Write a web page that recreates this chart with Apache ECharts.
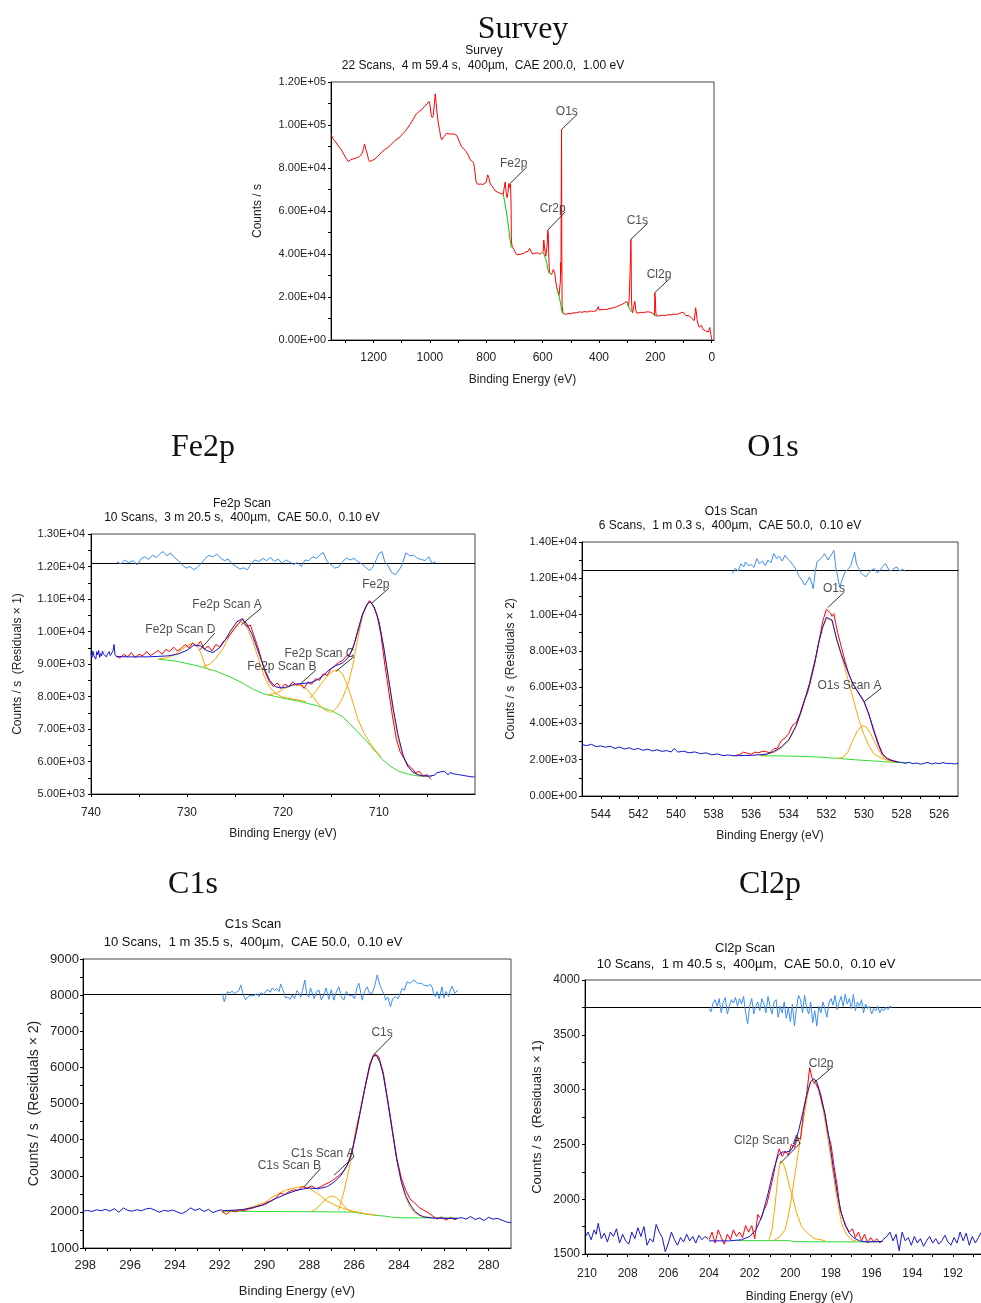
<!DOCTYPE html>
<html><head><meta charset="utf-8">
<script src="https://cdn.jsdelivr.net/npm/echarts@6/dist/echarts.min.js"></script>
<style>html,body{margin:0;padding:0;background:#fff}#c{width:981px;height:1303px}</style>
</head><body><div id="c"></div>
<script>
// ---------------- Survey ----------------
const surveyData = [[1350,95500],[1345,93800],[1340,93000],[1335,92200],[1330,91400],[1325,90300],[1320,89500],[1315,88600],[1310,87800],[1305,86200],[1300,85100],[1295,84000],[1290,83000],[1285,82800],[1280,83900],[1275,83500],[1270,84300],[1265,84000],[1260,84800],[1255,84400],[1250,85300],[1245,85800],[1240,87000],[1236,89000],[1232,91200],[1229,90500],[1226,88000],[1222,86500],[1218,84000],[1214,83000],[1210,82700],[1205,83500],[1200,83200],[1195,84200],[1190,85000],[1185,85500],[1180,86300],[1170,87500],[1160,88600],[1150,89500],[1140,90600],[1130,92000],[1120,93200],[1110,94000],[1100,95400],[1090,96800],[1080,98500],[1070,100300],[1060,102500],[1050,104800],[1040,106200],[1030,107000],[1020,108500],[1010,109800],[1004,111000],[1000,109500],[996,105000],[992,103500],[988,104500],[984,110000],[981,114500],[978,110500],[975,106000],[970,100500],[966,98000],[962,94500],[958,93200],[950,94600],[945,95500],[940,96200],[932,95800],[925,96500],[915,95800],[905,95200],[898,94400],[893,91500],[887,89800],[880,89200],[872,87800],[866,87200],[862,85500],[858,84000],[852,83500],[845,82500],[840,78000],[836,73500],[830,72400],[820,72600],[812,72300],[805,72900],[800,73500],[795,76800],[791,75500],[787,73000],[780,72200],[774,70500],[768,69300],[760,68800],[752,68300],[745,68000],[740,67800],[736,68500],[733,73500],[731,73800],[729,68000],[726,66200],[723,68500],[720,72800],[717,71000],[714,72500],[712,63000],[711,46000],[708,43500],[703,42300],[698,41000],[692,39700],[686,39200],[680,39800],[674,40200],[668,40300],[660,41000],[652,41200],[646,42600],[642,41400],[636,40000],[630,39800],[622,40600],[615,40300],[608,40000],[602,40500],[598,41200],[596,46500],[594,46000],[592,41500],[589,39000],[586,38700],[584,44000],[582,51000],[580,49500],[578,38000],[576,31500],[572,30800],[568,30500],[565,31500],[562,32800],[560,33400],[557,31000],[554,27500],[550,24500],[546,22500],[542,20800],[539,20000],[537,27500],[536,36000],[535,31000],[534,70000],[533,98000],[532,40000],[531,16000],[528,12500],[524,11700],[518,11900],[510,12300],[500,12200],[490,12700],[480,12600],[470,13100],[460,12900],[450,13200],[440,13000],[430,13500],[420,13300],[410,13600],[404,13700],[402,15500],[400,14000],[394,13700],[385,14200],[375,14100],[365,14600],[355,14800],[345,15100],[335,15600],[325,16200],[315,16800],[308,17500],[302,17900],[298,16600],[295,15300],[292,22000],[290,31000],[288,40000],[287,46800],[286,39000],[285,20000],[283,13800],[281,12700],[278,12500],[275,13000],[273,18000],[271,18800],[269,13500],[265,12500],[258,12700],[250,12900],[240,12800],[230,13100],[220,13000],[212,12700],[206,11800],[203,11400],[202,22000],[200,19500],[199,14000],[197,11300],[192,11000],[185,11200],[175,11500],[165,11300],[155,11800],[145,11700],[135,12000],[125,11900],[115,12300],[108,12400],[102,13000],[98,12200],[92,11400],[86,10900],[80,11300],[72,10200],[66,9800],[62,9000],[59,9600],[57,15000],[55,13200],[52,9500],[48,7000],[44,6000],[40,5500],[36,6800],[33,5200],[30,4700],[26,5900],[23,4300],[20,5000],[16,4100],[12,3700],[9,4200],[7,5800],[5,4000],[3,2500],[1,900],[0,200]];
const surveyBgFe = [[740,68000],[735,64500],[730,60500],[725,56500],[720,51500],[716,47000],[711,43000]];
const surveyBgCr = [[598,40800],[590,38000],[585,35500],[580,32000],[576,30800]];
const surveyBgO = [[549,24000],[544,21500],[540,19500],[536,16500],[532,13500],[529,12300]];
const surveyBgC = [[300,17500],[296,15800],[292,14800],[288,13600],[284,13000]];
const surveyBgCl = [[208,12300],[204,11800],[200,11300],[196,11100]];
const surveyNotes = [['O1s',533,97900,477,105000],['Fe2p',717.7,72500,656,80500],['Cr2p',581.7,51100,520,59600],['C1s',287.3,46800,228,54200],['Cl2p',202.2,22000,145,29100]];
const surveyXTicks = [0,100,200,300,400,500,600,700,800,900,1000,1100,1200,1300];
const surveyXLabels = [0,200,400,600,800,1000,1200];
const surveyYTicks = [0,10000,20000,30000,40000,50000,60000,70000,80000,90000,100000,110000,120000];
const surveyYLabels = [0,20000,40000,60000,80000,100000,120000];

// ---------------- Fe2p ----------------
const fe2pOuterLeft = [[740.0,9350],[739.9,9200],[739.8,9400],[739.7,9250],[739.6,9300],[739.5,9150],[739.4,9380],[739.3,9280],[739.2,9420],[739.1,9200],[739.0,9320],[738.9,9250],[738.8,9400],[738.7,9300],[738.6,9250],[738.5,9350],[738.4,9220],[738.3,9300],[738.2,9280],[738.1,9380],[738.0,9260],[737.9,9300],[737.8,9350],[737.7,9420],[737.6,9600],[737.5,9280],[737.4,9250]];
const fe2pOuterRight = [[704.6,5560],[704.4,5620],[704.2,5580],[704.0,5650],[703.8,5600],[703.6,5680],[703.4,5620],[703.2,5700],[703.0,5640],[702.8,5590],[702.6,5660],[702.4,5720],[702.2,5620],[702.0,5680],[701.8,5600],[701.6,5650],[701.4,5580],[701.2,5640],[701.0,5560],[700.8,5620],[700.6,5540],[700.4,5600],[700.2,5520],[700.0,5560]];
const fe2pRaw = [[737.4,9250],[737.0,9180],[736.6,9300],[736.2,9220],[735.8,9350],[735.4,9200],[735.0,9300],[734.6,9250],[734.2,9380],[733.8,9260],[733.4,9330],[733.0,9420],[732.6,9300],[732.2,9450],[731.8,9380],[731.4,9520],[731.0,9400],[730.6,9480],[730.2,9600],[729.8,9500],[729.4,9650],[729.0,9540],[728.6,9700],[728.2,9450],[727.8,9550],[727.4,9400],[727.0,9600],[726.6,9520],[726.2,9700],[725.8,9800],[725.4,9950],[725.0,10100],[724.6,10250],[724.2,10400],[723.8,10150],[723.4,10200],[723.0,9850],[722.6,9500],[722.2,9100],[721.8,8700],[721.4,8450],[721.0,8300],[720.6,8420],[720.2,8250],[719.8,8380],[719.4,8300],[719.0,8450],[718.6,8350],[718.2,8400],[717.8,8250],[717.4,8450],[717.0,8380],[716.6,8550],[716.2,8500],[715.8,8700],[715.4,8650],[715.0,8850],[714.6,8950],[714.2,9050],[713.8,9100],[713.4,9250],[713.0,9300],[712.6,9600],[712.2,10050],[711.8,10450],[711.4,10750],[711.0,10950],[710.6,10800],[710.2,10500],[709.8,9900],[709.4,9000],[709.0,8200],[708.6,7400],[708.2,6700],[707.8,6300],[707.4,6100],[707.0,5900],[706.6,5800],[706.2,5650],[705.8,5700],[705.4,5550],[705.0,5600],[704.6,5450]];
const fe2pEnv = [[737.4,9230],[736,9220],[734,9220],[732,9250],[731,9300],[730,9420],[729.3,9580],[728.6,9560],[728,9420],[727.3,9350],[726.6,9500],[726,9750],[725.4,10050],[724.8,10300],[724.3,10380],[723.8,10250],[723.2,9900],[722.6,9400],[722,8900],[721.4,8500],[720.8,8300],[720.2,8260],[719.5,8300],[718.8,8380],[718,8400],[717.2,8420],[716.5,8500],[715.8,8650],[715.2,8820],[714.5,8950],[713.8,9030],[713.2,9200],[712.7,9500],[712.2,10000],[711.7,10550],[711.2,10850],[710.9,10920],[710.5,10750],[710,10300],[709.5,9500],[709,8550],[708.5,7600],[708,6800],[707.5,6200],[707,5850],[706.5,5680],[706,5600],[705.5,5560],[704.5,5550]];
const fe2pBg = [[733,9150],[731,9080],[729,8950],[727,8780],[725.2,8560],[724,8380],[723.1,8220],[722,8080],[720,7950],[718.3,7850],[716.5,7720],[714.8,7540],[713.8,7380],[713.1,7180],[712.2,6900],[711.4,6660],[710.5,6350],[709.6,6050],[708.8,5850],[707.9,5690],[706.8,5600],[705.8,5550],[704.8,5540]];
const fe2pCompD = [[733,9150],[732,9200],[731.2,9300],[730.5,9450],[729.9,9580],[729.4,9640],[728.9,9550],[728.5,9300],[728.1,8930],[727.6,8800]];
const fe2pCompA = [[728.3,8920],[727.6,9000],[727,9170],[726.3,9450],[725.6,9850],[725,10150],[724.4,10300],[723.8,10180],[723.2,9750],[722.6,9200],[722,8650],[721.4,8300],[720.8,8100],[720.2,8000],[719.4,7940],[718.5,7900],[717.6,7840]];
const fe2pCompB = [[721.6,8050],[721,8080],[720.4,8150],[719.8,8250],[719.2,8330],[718.6,8360],[718,8320],[717.4,8200],[716.9,8000],[716.4,7800],[715.8,7620],[715.2,7520]];
const fe2pCompC = [[717.2,7950],[716.6,8150],[716,8400],[715.4,8620],[714.8,8780],[714.3,8820],[713.8,8700],[713.3,8350],[712.8,7900],[712.2,7300],[711.6,6900],[711,6600],[710.4,6350],[709.8,6150]];
const fe2pCompMain = [[715,7500],[714.4,7650],[713.8,7950],[713.2,8400],[712.7,9000],[712.2,9800],[711.7,10500],[711.2,10850],[710.9,10900],[710.5,10750],[710,10300],[709.5,9500],[709,8500],[708.5,7500],[708,6700],[707.5,6150],[707,5850],[706.5,5680],[706,5600],[705.5,5560],[704.8,5540]];
const fe2pResid = [[737.3,12150],[736.9,12080],[736.5,12200],[736.1,12120],[735.6,12180],[735.2,12050],[734.8,12230],[734.4,12300],[734.0,12220],[733.6,12350],[733.2,12280],[732.8,12400],[732.5,12460],[732.1,12330],[731.7,12420],[731.3,12270],[730.9,12180],[730.5,12050],[730.1,11950],[729.7,12000],[729.3,11900],[728.9,11980],[728.5,12100],[728.1,12250],[727.7,12340],[727.3,12300],[726.9,12380],[726.5,12260],[726.1,12180],[725.7,12230],[725.3,12080],[724.9,12000],[724.5,11920],[724.1,11960],[723.7,11900],[723.3,12100],[722.9,12200],[722.5,12150],[722.1,12250],[721.7,12180],[721.3,12280],[720.9,12150],[720.5,12230],[720.1,12100],[719.7,12200],[719.3,12140],[718.9,12060],[718.5,12120],[718.1,12000],[717.7,12200],[717.3,12180],[716.9,12300],[716.5,12250],[716.1,12370],[715.8,12430],[715.4,12150],[715.0,12050],[714.6,11950],[714.2,11980],[713.8,12150],[713.4,12260],[713.0,12200],[712.6,12250],[712.2,12150],[711.8,12080],[711.4,11980],[711.0,11880],[710.7,11950],[710.3,12200],[710.0,12400],[709.7,12460],[709.4,12150],[709.0,12000],[708.7,11820],[708.3,11750],[707.9,11900],[707.6,12050],[707.2,12420],[706.8,12330],[706.4,12350],[706.0,12250],[705.6,12220],[705.2,12180],[704.8,12300],[704.5,12100],[704.1,12150]];
const fe2pBaseline = 12090;
const fe2pNotes = [['Fe2p',710.86,10843,708.96,11336],['Fe2p Scan A',724.34,10207,722.27,10720],['Fe2p Scan D',728.66,9436,727.1,9950],['Fe2p Scan C',714.5,8769,712.6,9230],['Fe2p Scan B',718.1,8409,716.56,8820]];
const fe2pXTicks = [705,710,715,720,725,730,735,740];
const fe2pXLabels = [710,720,730,740];
const fe2pYTicks = [5000,5500,6000,6500,7000,7500,8000,8500,9000,9500,10000,10500,11000,11500,12000,12500,13000];
const fe2pYLabels = [5000,6000,7000,8000,9000,10000,11000,12000,13000];

// ---------------- O1s ----------------
const o1sOuterLeft = [[545,2830],[544.75,2780],[544.5,2850],[544.25,2720],[544,2760],[543.75,2690],[543.5,2740],[543.25,2620],[543,2700],[542.75,2590],[542.5,2660],[542.25,2560],[542,2620],[541.75,2520],[541.5,2580],[541.25,2480],[541,2550],[540.75,2460],[540.5,2500],[540.25,2430],[540.1,2620],[539.9,2420],[539.6,2470],[539.3,2380],[539,2430],[538.7,2330],[538.4,2380],[538.1,2270],[537.8,2320],[537.5,2230],[537.2,2260],[536.9,2210]];
const o1sRaw = [[536.9,2220],[536.6,2280],[536.4,2420],[536.2,2350],[536,2300],[535.8,2420],[535.6,2380],[535.4,2470],[535.2,2440],[535,2380],[534.8,2600],[534.6,2650],[534.4,3050],[534.2,3200],[534,3450],[533.8,3900],[533.6,4050],[533.4,4550],[533.2,5200],[533,5700],[532.8,6500],[532.6,7400],[532.4,8500],[532.2,9600],[532,10300],[531.9,10400],[531.8,10100],[531.7,9900],[531.6,10050],[531.5,9500],[531.4,9000],[531.2,8200],[531,7400],[530.8,6700],[530.6,6200],[530.4,5850],[530.2,5500],[530,5200],[529.8,4650],[529.6,4050],[529.4,3400],[529.2,2800],[529,2300],[528.8,2100],[528.6,2000],[528.4,1920],[528.2,1880]];
const o1sOuterRight = [[528.2,1880],[528,1850],[527.8,1800],[527.6,1860],[527.4,1780],[527.2,1820],[527,1750],[526.8,1800],[526.6,1850],[526.4,1760],[526.2,1820],[526,1780],[525.8,1840],[525.6,1790],[525.4,1800],[525.2,1770],[525,1790]];
const o1sEnv = [[536.9,2220],[536,2240],[535.2,2300],[534.8,2450],[534.4,2700],[534,3100],[533.6,3900],[533.3,4800],[532.9,6200],[532.6,7500],[532.4,8500],[532.2,9300],[532,9850],[531.9,9930],[531.7,9700],[531.44,8600],[531.2,7800],[530.9,6950],[530.6,6200],[530.38,5830],[530.03,5280],[529.75,4550],[529.5,3630],[529.25,2850],[529.05,2350],[528.8,2080],[528.6,1980],[528.2,1880]];
const o1sBg = [[535.5,2220],[534.5,2210],[533.5,2190],[532.5,2150],[531.5,2080],[530.5,2000],[529.5,1930],[528.5,1860],[527.7,1830]];
const o1sCompMain = [[535.5,2220],[534.8,2400],[534.4,2650],[534,3050],[533.6,3850],[533.3,4750],[532.9,6150],[532.6,7450],[532.4,8450],[532.2,9250],[532,9800],[531.9,9880],[531.7,9650],[531.44,8550],[531.2,7700],[530.9,6600],[530.56,5300],[530.3,4300],[530.03,3450],[529.75,2800],[529.5,2350],[529.05,2070],[528.6,1950],[528.2,1870]];
const o1sCompA = [[531.4,2070],[531.1,2150],[530.85,2450],[530.6,3050],[530.35,3600],[530.1,3860],[529.9,3820],[529.65,3450],[529.4,2900],[529.15,2400],[528.9,2050],[528.6,1910],[528.4,1880]];
const o1sResid = [[537.0,12260],[536.85,12550],[536.7,12400],[536.55,12800],[536.4,12620],[536.3,12900],[536.15,12700],[536.0,12750],[535.85,12600],[535.7,13080],[535.55,12800],[535.4,12950],[535.25,12700],[535.1,13000],[534.95,12850],[534.8,13360],[534.65,13100],[534.5,13200],[534.35,12950],[534.2,13270],[534.05,13050],[533.9,12900],[533.75,12700],[533.6,12450],[533.45,12100],[533.3,11900],[533.15,11620],[533.0,11850],[532.9,12070],[532.8,11800],[532.7,11430],[532.6,12300],[532.5,12900],[532.4,12800],[532.3,13080],[532.2,13200],[532.1,13360],[532.0,13450],[531.9,13000],[531.8,13200],[531.7,13350],[531.6,13540],[531.5,12600],[531.4,12100],[531.3,11520],[531.2,11800],[531.1,12100],[531.0,12350],[530.9,12300],[530.8,12550],[530.7,12700],[530.6,13100],[530.5,13450],[530.4,12800],[530.3,12600],[530.2,12350],[530.05,12200],[529.9,12080],[529.75,12300],[529.6,12450],[529.45,12530],[529.3,12300],[529.15,12420],[529.0,12650],[528.85,12810],[528.7,12500],[528.55,12400],[528.4,12550],[528.25,12620],[528.1,12400],[527.95,12500],[527.8,12380]];
const o1sBaseline = 12440;
const o1sNotes = [['O1s',531.93,10386,531.04,11248],['O1s Scan A',529.99,5193,529.1,5927]];
const o1sXTicks = [526,527,528,529,530,531,532,533,534,535,536,537,538,539,540,541,542,543,544];
const o1sXLabels = [526,528,530,532,534,536,538,540,542,544];
const o1sYTicks = [0,1000,2000,3000,4000,5000,6000,7000,8000,9000,10000,11000,12000,13000,14000];
const o1sYLabels = [0,2000,4000,6000,8000,10000,12000,14000];

// ---------------- C1s ----------------
const c1sOuterLeft = [[298.1,2020],[297.9,2040],[297.7,2010],[297.5,2060],[297.3,2030],[297.1,2070],[296.9,2020],[296.7,2090],[296.5,1990],[296.3,2110],[296.1,2040],[295.9,2020],[295.7,2060],[295.5,2030],[295.3,2080],[295.1,2100],[294.9,2050],[294.7,1990],[294.5,2040],[294.3,2020],[294.1,2050],[293.9,2000],[293.7,1950],[293.5,2010],[293.3,2110],[293.1,2040],[292.9,2090],[292.7,2010],[292.5,2070],[292.3,1980],[292.1,2030],[291.9,2060]];
const c1sRaw = [[291.9,2010],[291.7,1930],[291.5,2040],[291.3,2000],[291.1,2060],[290.9,2030],[290.7,2080],[290.5,2110],[290.3,2160],[290.1,2190],[289.9,2260],[289.7,2310],[289.5,2380],[289.3,2520],[289.1,2480],[288.9,2560],[288.7,2610],[288.5,2600],[288.3,2700],[288.1,2650],[287.9,2720],[287.7,2640],[287.5,2690],[287.3,2760],[287.1,2820],[286.9,2900],[286.7,3000],[286.5,3100],[286.3,3300],[286.1,3650],[285.9,4250],[285.7,4900],[285.5,5500],[285.3,6100],[285.1,6380],[284.9,6300],[284.7,5850],[284.5,5100],[284.3,4300],[284.1,3500],[283.9,2950],[283.7,2600],[283.5,2350],[283.3,2250],[283.1,2120],[282.9,2050],[282.7,1980],[282.5,1890],[282.3,1800],[282.1,1860],[281.9,1770],[281.7,1850],[281.5,1780],[281.4,1820]];
const c1sOuterRight = [[281.4,1820],[281.2,1840],[281.0,1800],[280.8,1870],[280.6,1790],[280.4,1830],[280.2,1760],[280.0,1850],[279.8,1800],[279.6,1820],[279.4,1770],[279.2,1720],[279.0,1700]];
const c1sEnv = [[291.9,2030],[291,2060],[290.5,2120],[290,2200],[289.5,2370],[289,2500],[288.5,2610],[288,2660],[287.6,2640],[287.2,2700],[286.9,2820],[286.6,3000],[286.3,3300],[286.1,3650],[285.9,4200],[285.7,4850],[285.5,5500],[285.3,6050],[285.15,6320],[285,6330],[284.85,6150],[284.7,5800],[284.5,5050],[284.3,4250],[284.1,3450],[283.9,2850],[283.7,2450],[283.5,2200],[283.3,2020],[283.1,1920],[282.9,1860],[282.5,1830],[282,1820],[281.4,1810]];
const c1sBg = [[291.9,2015],[290,2010],[288,2005],[286.1,1995],[285.6,1950],[285.05,1905],[284.6,1880],[284.16,1840],[283,1835],[281.4,1835]];
const c1sCompMain = [[286.7,2040],[286.5,2450],[286.3,2970],[286.1,3600],[285.94,4260],[285.7,4850],[285.5,5450],[285.3,6000],[285.15,6300],[285,6320],[284.85,6150],[284.7,5800],[284.5,5050],[284.3,4250],[284.1,3450],[283.9,2850],[283.7,2400],[283.5,2130],[283.3,1980],[283.1,1900],[282.8,1860],[282.5,1840]];
const c1sCompA = [[287.9,2010],[287.7,2080],[287.5,2200],[287.3,2330],[287.1,2420],[286.95,2440],[286.8,2400],[286.6,2280],[286.4,2130],[286.2,2030],[286,2000]];
const c1sCompB = [[291.9,2015],[291,2060],[290.54,2140],[290,2250],[289.65,2410],[289.06,2600],[288.6,2680],[288.32,2700],[288,2660],[287.87,2600],[287.5,2450],[287.28,2320],[286.9,2200],[286.68,2140],[286.3,2060],[286.09,2025],[285.5,1950],[285,1905]];
const c1sResid = [[291.88,8050],[291.8,7820],[291.73,7960],[291.66,8090],[291.55,8060],[291.44,8110],[291.35,8040],[291.25,8080],[291.15,8120],[291.06,8280],[290.95,8010],[290.84,7870],[290.75,7950],[290.65,7990],[290.54,7980],[290.45,8000],[290.35,8040],[290.25,7960],[290.15,8070],[290.05,8020],[289.95,8100],[289.85,8150],[289.75,8080],[289.65,8200],[289.55,8130],[289.45,8180],[289.35,8100],[289.28,8310],[289.18,8150],[289.06,7920],[288.96,7950],[288.86,7880],[288.76,8000],[288.66,7900],[288.56,8120],[288.46,8060],[288.38,7940],[288.3,8140],[288.2,8420],[288.12,8050],[288.02,7950],[287.95,8200],[287.87,8230],[287.78,7900],[287.68,8100],[287.57,8140],[287.47,7870],[287.35,8000],[287.25,8200],[287.13,7880],[287.02,8150],[286.9,7860],[286.8,8080],[286.68,8230],[286.57,7950],[286.46,7860],[286.35,8100],[286.22,7980],[286.09,8000],[285.98,7900],[285.88,8200],[285.79,8330],[285.7,8050],[285.64,7860],[285.54,8100],[285.42,8230],[285.32,8060],[285.2,8050],[285.08,8250],[284.97,8560],[284.86,8300],[284.75,8130],[284.65,8000],[284.6,7860],[284.5,7950],[284.38,7680],[284.28,7900],[284.16,7960],[284.05,7900],[283.96,8030],[283.86,8180],[283.75,8140],[283.64,8370],[283.5,8330],[283.34,8420],[283.22,8350],[283.12,8320],[283.0,8330],[282.9,8280],[282.82,8330],[282.7,8250],[282.6,8300],[282.52,8220],[282.45,8050],[282.38,7960],[282.3,8100],[282.2,7900],[282.08,8230],[282.0,7920],[281.9,8100],[281.78,7960],[281.7,8150],[281.63,8240],[281.5,8050],[281.37,8140]];
const c1sBaseline = 8030;
const c1sNotes = [['C1s',285.1,6367,284.3,6870],['C1s Scan A',286.9,3014,286.01,3522],['C1s Scan B',288.24,2690,287.5,3200]];
const c1sXTicks = [280,281,282,283,284,285,286,287,288,289,290,291,292,293,294,295,296,297,298];
const c1sXLabels = [280,282,284,286,288,290,292,294,296,298];
const c1sYTicks = [1000,1500,2000,2500,3000,3500,4000,4500,5000,5500,6000,6500,7000,7500,8000,8500,9000];
const c1sYLabels = [1000,2000,3000,4000,5000,6000,7000,8000,9000];

// ---------------- Cl2p ----------------
const cl2pOuterLeft = [[210.1,1650],[209.95,1700],[209.8,1630],[209.65,1720],[209.55,1680],[209.45,1780],[209.3,1640],[209.15,1690],[209.0,1610],[208.85,1700],[208.7,1660],[208.55,1730],[208.4,1600],[208.25,1680],[208.1,1620],[207.95,1590],[207.8,1700],[207.65,1640],[207.5,1740],[207.35,1660],[207.2,1750],[207.05,1580],[206.9,1640],[206.75,1610],[206.6,1770],[206.45,1700],[206.3,1650],[206.15,1520],[206.0,1600],[205.85,1700],[205.7,1630],[205.55,1580],[205.4,1650],[205.25,1610],[205.1,1680],[204.95,1620],[204.8,1660],[204.65,1600],[204.5,1670],[204.35,1630],[204.2,1660],[204.05,1640]];
const cl2pRaw = [[204.0,1630],[203.85,1700],[203.7,1600],[203.55,1720],[203.4,1650],[203.25,1590],[203.1,1680],[202.95,1630],[202.8,1720],[202.65,1660],[202.5,1700],[202.35,1650],[202.2,1760],[202.05,1700],[201.9,1760],[201.75,1640],[201.6,1860],[201.45,1820],[201.3,1900],[201.15,1960],[201.0,2080],[200.85,2200],[200.7,2350],[200.55,2460],[200.4,2390],[200.25,2440],[200.1,2400],[199.95,2500],[199.8,2470],[199.65,2560],[199.5,2550],[199.35,2800],[199.2,2950],[199.05,3200],[198.9,3080],[198.75,3050],[198.6,3000],[198.45,2880],[198.3,2780],[198.15,2600],[198.0,2500],[197.85,2300],[197.7,2130],[197.55,1900],[197.4,1820],[197.25,1750],[197.1,1700],[196.95,1730],[196.8,1650],[196.65,1700],[196.5,1620],[196.35,1680],[196.2,1600],[196.05,1650],[195.9,1610],[195.75,1640],[195.6,1600],[195.45,1630]];
const cl2pOuterRight = [[195.45,1630],[195.25,1660],[195.1,1700],[194.95,1620],[194.8,1680],[194.65,1530],[194.5,1700],[194.35,1620],[194.2,1650],[194.05,1580],[193.9,1660],[193.75,1600],[193.6,1640],[193.45,1570],[193.3,1620],[193.15,1660],[193.0,1600],[192.85,1640],[192.7,1590],[192.55,1620],[192.4,1670],[192.25,1610],[192.1,1580],[191.95,1650],[191.8,1600],[191.65,1700],[191.5,1620],[191.35,1690],[191.2,1580],[191.05,1660],[190.9,1600],[190.75,1650],[190.6,1700],[190.45,1610],[190.3,1680],[190.15,1600],[190.0,1640],[189.85,1610],[189.7,1660],[189.55,1590],[189.4,1640],[189.2,1620],[189.0,1650]];
const cl2pEnv = [[204,1620],[203,1620],[202.4,1630],[202,1660],[201.7,1720],[201.4,1840],[201.1,2050],[200.85,2250],[200.6,2400],[200.4,2430],[200.2,2430],[200,2440],[199.8,2500],[199.6,2620],[199.4,2780],[199.2,2950],[199.0,3070],[198.85,3100],[198.7,3070],[198.5,2950],[198.3,2780],[198.1,2560],[197.9,2300],[197.7,2060],[197.5,1880],[197.3,1760],[197.1,1690],[196.9,1650],[196.6,1620],[196.2,1610],[195.45,1615]];
const cl2pBg = [[202.6,1622],[200.0,1622],[199.9,1613],[197,1610],[195.7,1610]];
const cl2pCompMain = [[200.8,1625],[200.5,1660],[200.26,1720],[200.1,1850],[199.93,2030],[199.7,2320],[199.44,2630],[199.2,2900],[199.03,3070],[198.85,3090],[198.7,3050],[198.5,2920],[198.38,2810],[198.2,2600],[197.97,2330],[197.75,2050],[197.48,1780],[197.25,1680],[196.98,1630],[196.7,1615]];
const cl2pCompA = [[201.05,1630],[200.9,1720],[200.75,1950],[200.6,2230],[200.48,2350],[200.35,2330],[200.2,2240],[200.05,2120],[199.93,2050],[199.7,1880],[199.45,1750],[199.1,1680],[198.8,1640],[198.3,1622]];
const cl2pResid = [[204.0,3740],[203.9,3710],[203.8,3790],[203.7,3820],[203.6,3760],[203.5,3830],[203.4,3700],[203.3,3800],[203.2,3840],[203.1,3690],[203.0,3760],[202.9,3820],[202.8,3790],[202.7,3840],[202.6,3760],[202.5,3830],[202.4,3780],[202.3,3850],[202.2,3700],[202.1,3600],[202.0,3760],[201.9,3830],[201.8,3690],[201.7,3760],[201.6,3800],[201.5,3720],[201.4,3830],[201.3,3780],[201.2,3700],[201.1,3850],[201.0,3760],[200.9,3690],[200.8,3800],[200.7,3820],[200.6,3660],[200.5,3760],[200.4,3700],[200.3,3800],[200.2,3650],[200.1,3750],[200.0,3620],[199.9,3780],[199.8,3580],[199.7,3740],[199.6,3860],[199.5,3820],[199.4,3700],[199.3,3860],[199.2,3750],[199.1,3690],[199.0,3800],[198.9,3610],[198.8,3720],[198.7,3580],[198.6,3760],[198.5,3700],[198.4,3800],[198.3,3740],[198.2,3660],[198.1,3790],[198.0,3830],[197.9,3770],[197.8,3860],[197.7,3730],[197.6,3800],[197.5,3850],[197.4,3760],[197.3,3870],[197.2,3780],[197.1,3830],[197.0,3740],[196.9,3870],[196.8,3720],[196.7,3800],[196.6,3760],[196.5,3820],[196.4,3700],[196.3,3780],[196.2,3740],[196.1,3760],[196.0,3690],[195.9,3740],[195.8,3720],[195.7,3760],[195.6,3700],[195.5,3740],[195.4,3720],[195.3,3750],[195.2,3730],[195.1,3760],[195.0,3750]];
const cl2pBaseline = 3748;
const cl2pNotes = [['Cl2p',198.87,3057,197.9,3210],['Cl2p Scan A',200.5,2327,199.52,2510]];
const cl2pXTicks = [190,191,192,193,194,195,196,197,198,199,200,201,202,203,204,205,206,207,208,209,210];
const cl2pXLabels = [190,192,194,196,198,200,202,204,206,208,210];
const cl2pYTicks = [1500,1750,2000,2250,2500,2750,3000,3250,3500,3750,4000];
const cl2pYLabels = [1500,2000,2500,3000,3500,4000];

// ---------------- Build chart ----------------
const RED = '#ff0000', BLUE = '#1414d2', LBLUE = '#3d8ef5', GREEN = '#33dd33', ORANGE = '#ffa500';
const SANS = '"Liberation Sans", Arial, sans-serif';
const SERIF = '"Liberation Serif", "Times New Roman", serif';

function sci(v) {
  if (v === 0) return '0.00E+00';
  const e = Math.floor(Math.log10(Math.abs(v)) + 1e-9);
  const m = v / Math.pow(10, e);
  return m.toFixed(2) + 'E+' + String(e).padStart(2, '0');
}
const plain = v => String(Math.round(v));

const panels = [
  {grid:{left:331, top:82, width:383, height:258}, xmin:-8, xmax:1351, ymin:0, ymax:120000,
   xt:surveyXTicks, xl:surveyXLabels, yt:surveyYTicks, yl:surveyYLabels, yfmt:sci, fs:11, xfs:12,
   yname:'Counts / s', ygap:67, xgap:34, xmargin:12, ymargin:5},
  {grid:{left:91, top:534, width:384, height:260}, xmin:700, xmax:740, ymin:5000, ymax:13000,
   xt:fe2pXTicks, xl:fe2pXLabels, yt:fe2pYTicks, yl:fe2pYLabels, yfmt:sci, fs:11, xfs:12,
   yname:'Counts / s  (Residuals \u00d7 1)', ygap:67, xgap:34, xmargin:13, ymargin:6},
  {grid:{left:582, top:542, width:376, height:254}, xmin:525, xmax:545, ymin:0, ymax:14000,
   xt:o1sXTicks, xl:o1sXLabels, yt:o1sYTicks, yl:o1sYLabels, yfmt:sci, fs:11, xfs:12,
   yname:'Counts / s  (Residuals \u00d7 2)', ygap:65, xgap:34, xmargin:13, ymargin:5},
  {grid:{left:83, top:959, width:428, height:289}, xmin:279, xmax:298.1, ymin:1000, ymax:9000,
   xt:c1sXTicks, xl:c1sXLabels, yt:c1sYTicks, yl:c1sYLabels, yfmt:plain, fs:13, xfs:13,
   yname:'Counts / s  (Residuals \u00d7 2)', ygap:42, xgap:37, xmargin:11, ymargin:4},
  {grid:{left:585, top:980, width:429, height:274}, xmin:189, xmax:210.1, ymin:1500, ymax:4000,
   xt:cl2pXTicks, xl:cl2pXLabels, yt:cl2pYTicks, yl:cl2pYLabels, yfmt:plain, fs:12, xfs:12,
   yname:'Counts / s  (Residuals \u00d7 1)', ygap:41, xgap:37, xmargin:14, ymargin:5}
];

const grids = [], xAxes = [], yAxes = [];
panels.forEach((p, i) => {
  grids.push(Object.assign({show:true, borderColor:'#444', borderWidth:1, backgroundColor:'transparent',
    containLabel:false, outerBoundsMode:'none'}, p.grid));
  xAxes.push({type:'value', gridIndex:i, min:p.xmin, max:p.xmax, inverse:true,
    name:'Binding Energy (eV)', nameLocation:'middle', nameGap:p.xgap,
    nameTextStyle:{fontFamily:SANS, fontSize:p.xfs, color:'#222'},
    axisLine:{show:true, onZero:false, lineStyle:{color:'#000', width:1}},
    axisTick:{show:true, inside:false, length:3, customValues:p.xt, lineStyle:{color:'#000'}},
    axisLabel:{show:true, customValues:p.xl, margin:p.xmargin, formatter:plain, fontFamily:SANS, fontSize:p.xfs, color:'#222'},
    splitLine:{show:false}});
  yAxes.push({type:'value', gridIndex:i, min:p.ymin, max:p.ymax,
    name:p.yname, nameLocation:'middle', nameGap:p.ygap, nameRotate:90,
    nameTextStyle:{fontFamily:SANS, fontSize:p.fs + 1, color:'#222'},
    axisLine:{show:true, onZero:false, lineStyle:{color:'#000', width:1}},
    axisTick:{show:true, inside:false, length:3, customValues:p.yt, lineStyle:{color:'#000'}},
    axisLabel:{show:true, customValues:p.yl, margin:p.ymargin, formatter:p.yfmt, fontFamily:SANS, fontSize:p.fs, color:'#222'},
    splitLine:{show:false}});
});

const series = [];
function line(i, data, color, z, extra) {
  series.push(Object.assign({type:'line', xAxisIndex:i, yAxisIndex:i, data:data, symbol:'none', showSymbol:false,
    lineStyle:{color:color, width:1}, itemStyle:{color:color}, z:z, silent:true, animation:false, clip:true}, extra || {}));
}
function resid(i, data, base) {
  line(i, data, LBLUE, 6, {markLine:{silent:true, symbol:['none','none'], animation:false,
    lineStyle:{color:'#000', width:1, type:'solid'}, label:{show:false}, data:[{yAxis:base}]}});
}
function notes(i, arr) {
  series.push({type:'scatter', xAxisIndex:i, yAxisIndex:i, symbolSize:1, z:10, silent:true, animation:false,
    itemStyle:{color:'rgba(0,0,0,0)'},
    data: arr.map(n => ({name:n[0], value:[n[3], n[4]]})),
    label:{show:true, formatter:'{b}', position:'left', distance:0, offset:[1,-3], fontFamily:SANS, fontSize:12, color:'#222'},
    markLine:{silent:true, symbol:['none','none'], animation:false, lineStyle:{color:'#333', width:1, type:'solid'}, label:{show:false},
      data: arr.map(n => [{coord:[n[1], n[2]]}, {coord:[n[3], n[4]]}])}
  });
}

// Survey
line(0, surveyData, RED, 3);
[surveyBgFe, surveyBgCr, surveyBgO, surveyBgC, surveyBgCl].forEach(d => line(0, d, '#00cc00', 4));
notes(0, surveyNotes);
// Fe2p
line(1, fe2pBg, GREEN, 2);
[fe2pCompD, fe2pCompA, fe2pCompB, fe2pCompC, fe2pCompMain].forEach(d => line(1, d, ORANGE, 3));
line(1, fe2pRaw, RED, 4);
line(1, fe2pOuterLeft, BLUE, 5); line(1, fe2pOuterRight, BLUE, 5);
line(1, fe2pEnv, BLUE, 5);
resid(1, fe2pResid, fe2pBaseline);
notes(1, fe2pNotes);
// O1s
line(2, o1sBg, GREEN, 2);
[o1sCompMain, o1sCompA].forEach(d => line(2, d, ORANGE, 3));
line(2, o1sRaw, RED, 4);
line(2, o1sOuterLeft, BLUE, 5); line(2, o1sOuterRight, BLUE, 5);
line(2, o1sEnv, BLUE, 5);
resid(2, o1sResid, o1sBaseline);
notes(2, o1sNotes);
// C1s
line(3, c1sBg, GREEN, 2);
[c1sCompMain, c1sCompA, c1sCompB].forEach(d => line(3, d, ORANGE, 3));
line(3, c1sRaw, RED, 4);
line(3, c1sOuterLeft, BLUE, 5); line(3, c1sOuterRight, BLUE, 5);
line(3, c1sEnv, BLUE, 5);
resid(3, c1sResid, c1sBaseline);
notes(3, c1sNotes);
// Cl2p
line(4, cl2pBg, GREEN, 2);
[cl2pCompMain, cl2pCompA].forEach(d => line(4, d, ORANGE, 3));
line(4, cl2pRaw, RED, 4);
line(4, cl2pOuterLeft, BLUE, 5); line(4, cl2pOuterRight, BLUE, 5);
line(4, cl2pEnv, BLUE, 5);
resid(4, cl2pResid, cl2pBaseline);
notes(4, cl2pNotes);

function txt(t, x, y, size, font) {
  return {type:'text', x:x, y:y, silent:true, style:{text:t, fontFamily:font, fontSize:size, fill:'#111', textAlign:'center', textVerticalAlign:'middle'}};
}
const graphics = [
  txt('Survey', 523, 30, 32, SERIF),
  txt('Survey', 484, 51, 12, SANS),
  txt('22 Scans,  4 m 59.4 s,  400\u00b5m,  CAE 200.0,  1.00 eV', 483, 66, 12, SANS),
  txt('Fe2p', 203, 448, 32, SERIF),
  txt('Fe2p Scan', 242, 504, 12, SANS),
  txt('10 Scans,  3 m 20.5 s,  400\u00b5m,  CAE 50.0,  0.10 eV', 242, 518, 12, SANS),
  txt('O1s', 773, 448, 32, SERIF),
  txt('O1s Scan', 731, 512, 12, SANS),
  txt('6 Scans,  1 m 0.3 s,  400\u00b5m,  CAE 50.0,  0.10 eV', 730, 526, 12, SANS),
  txt('C1s', 193, 885, 32, SERIF),
  txt('C1s Scan', 253, 924, 13, SANS),
  txt('10 Scans,  1 m 35.5 s,  400\u00b5m,  CAE 50.0,  0.10 eV', 253, 942, 13, SANS),
  txt('Cl2p', 770, 885, 32, SERIF),
  txt('Cl2p Scan', 745, 948, 13, SANS),
  txt('10 Scans,  1 m 40.5 s,  400\u00b5m,  CAE 50.0,  0.10 eV', 746, 964, 13, SANS)
];

const chart = echarts.init(document.getElementById('c'), null, {renderer:'canvas'});
chart.setOption({animation:false, backgroundColor:'#fff', grid:grids, xAxis:xAxes, yAxis:yAxes, series:series, graphic:graphics});
</script></body></html>
